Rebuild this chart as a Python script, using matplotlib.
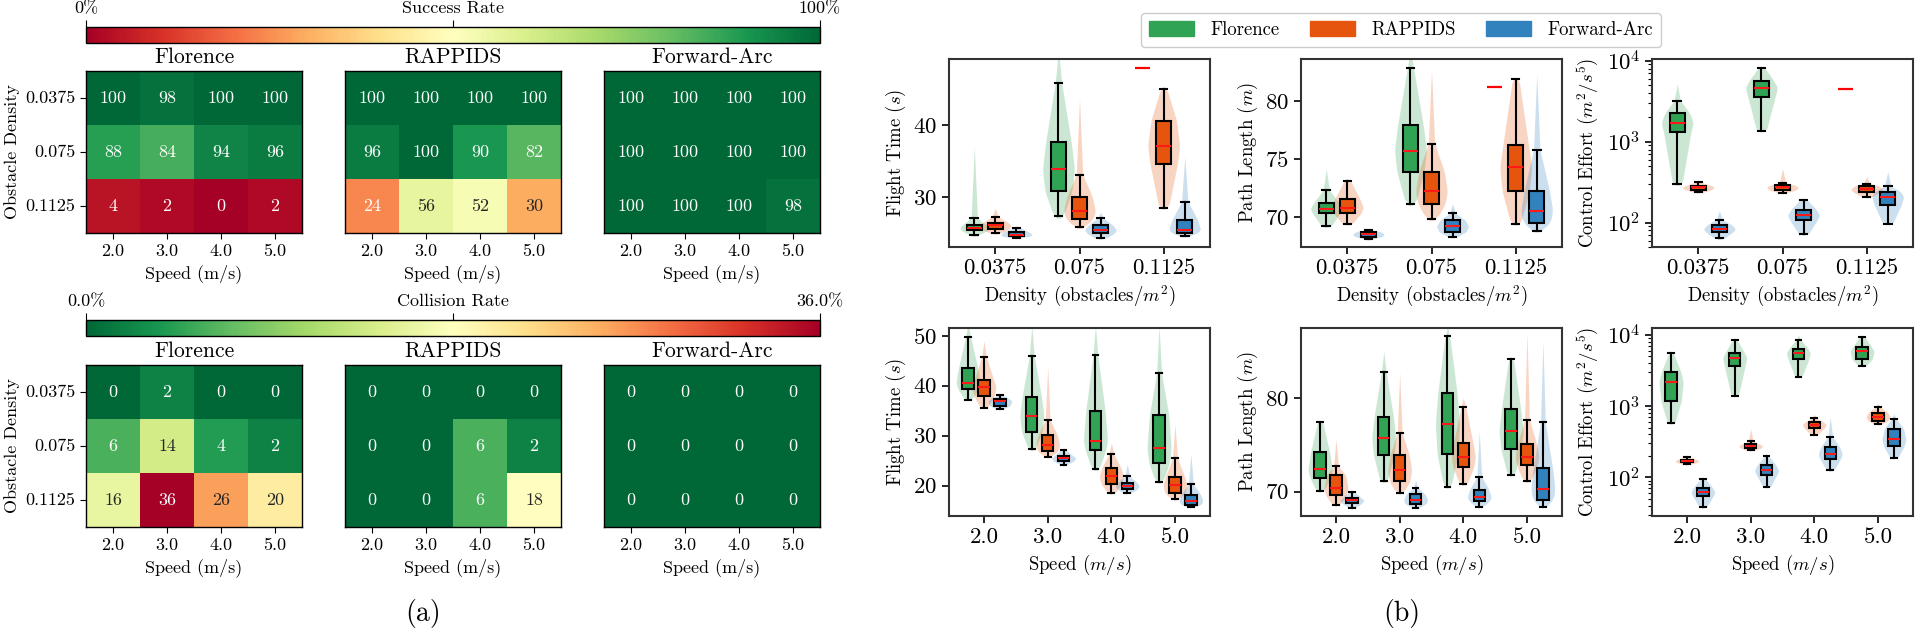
import numpy as np
import matplotlib
matplotlib.use('Agg')
import matplotlib.pyplot as plt
import seaborn as sns
from matplotlib.patches import Patch
from matplotlib.ticker import MultipleLocator

plt.rcParams['font.family'] = 'serif'
plt.rcParams['font.serif'] = ['cmr10', 'DejaVu Serif']
plt.rcParams['mathtext.fontset'] = 'cm'
plt.rcParams['axes.unicode_minus'] = False
plt.rcParams['axes.formatter.use_mathtext'] = True

# ---------------- data ----------------
methods = ['Florence', 'RAPPIDS', 'Forward-Arc']
speeds = ['2.0', '3.0', '4.0', '5.0']
densities = ['0.0375', '0.075', '0.1125']

success_florence = [[100, 98, 100, 100], [88, 84, 94, 96], [4, 2, 0, 2]]
success_rappids = [[100, 100, 100, 100], [96, 100, 90, 82], [24, 56, 52, 30]]
success_farc = [[100, 100, 100, 100], [100, 100, 100, 100], [100, 100, 100, 98]]
collision_florence = [[0, 2, 0, 0], [6, 14, 4, 2], [16, 36, 26, 20]]
collision_rappids = [[0, 0, 0, 0], [0, 0, 6, 2], [0, 0, 6, 18]]
collision_farc = [[0, 0, 0, 0], [0, 0, 0, 0], [0, 0, 0, 0]]

# box stats per group: [whislo, q1, med, q3, whishi, violin_lo, violin_hi]
ft_density_florence = [[24.7, 25.3, 25.6, 26.0, 27.0, 24.5, 37.0], [27.3, 30.8, 33.9, 37.6, 45.9, 27.0, 50.5], [48.0, 48.0, 48.0, 48.0, 48.0, 48.0, 48.0]]
ft_density_rappids = [[24.9, 25.5, 26.0, 26.4, 27.2, 24.8, 28.4], [25.8, 26.9, 28.0, 30.0, 33.1, 25.6, 43.7], [28.5, 34.5, 37.1, 40.6, 45.0, 28.3, 45.3]]
ft_density_farc = [[24.3, 24.5, 24.7, 25.1, 25.7, 24.2, 25.9], [24.2, 24.9, 25.4, 26.0, 27.0, 24.1, 27.8], [24.5, 25.0, 25.4, 26.8, 29.3, 24.4, 35.6]]

pl_density_florence = [[69.2, 70.3, 70.7, 71.2, 72.3, 69.1, 74.1], [71.1, 73.9, 75.7, 77.9, 82.8, 71.0, 84.5], [81.2, 81.2, 81.2, 81.2, 81.2, 81.2, 81.2]]
pl_density_rappids = [[69.4, 70.3, 70.8, 71.5, 73.1, 69.3, 73.3], [69.8, 71.1, 72.2, 73.9, 76.3, 69.7, 82.7], [69.4, 72.2, 74.3, 76.2, 81.9, 69.3, 82.0]]
pl_density_farc = [[68.1, 68.3, 68.5, 68.7, 68.9, 68.0, 69.0], [68.3, 68.7, 69.2, 69.7, 70.3, 68.2, 71.1], [68.8, 69.5, 70.5, 72.2, 75.8, 68.7, 82.3]]

ce_density_florence = [[298, 1300, 1680, 2230, 3200, 290, 5140], [1360, 3550, 4630, 5540, 8190, 1350, 8300], [4510, 4510, 4510, 4510, 4510, 4510, 4510]]
ce_density_rappids = [[237, 256, 274, 287, 315, 232, 330], [235, 253, 274, 290, 310, 230, 466], [208, 239, 258, 282, 304, 205, 367]]
ce_density_farc = [[64, 76.7, 83.5, 92.7, 109, 62, 139], [72.4, 107, 123, 145, 193, 70, 200], [96.4, 167, 208, 242, 282, 95, 424]]

ft_speed_florence = [[37.2, 39.3, 40.6, 43.5, 49.8, 37.0, 52.5], [27.3, 30.8, 34.0, 37.7, 46.0, 27.0, 52.0], [23.3, 27.1, 28.9, 34.9, 46.1, 23.0, 52.0], [20.7, 24.5, 27.5, 34.1, 42.5, 20.5, 52.0]]
ft_speed_rappids = [[35.6, 37.9, 39.7, 41.1, 45.7, 35.4, 48.9], [25.8, 26.9, 28.1, 30.1, 33.1, 25.6, 43.7], [18.5, 20.3, 21.9, 23.5, 26.3, 18.3, 28.5], [17.3, 18.5, 20.1, 21.7, 25.6, 17.1, 32.2]]
ft_speed_farc = [[35.3, 36.0, 36.9, 37.3, 38.1, 35.2, 38.3], [24.2, 24.9, 25.5, 25.9, 27.1, 24.1, 27.3], [18.5, 19.3, 19.9, 20.6, 21.9, 18.4, 24.3], [15.7, 16.2, 16.9, 18.2, 20.3, 15.6, 26.3]]

pl_speed_florence = [[70.1, 71.5, 72.4, 74.2, 77.5, 70.0, 77.6], [71.1, 73.9, 75.7, 78.0, 82.8, 71.0, 85.0], [70.5, 74.0, 77.2, 80.5, 86.6, 70.4, 87.5], [71.8, 74.6, 76.5, 78.8, 84.2, 71.7, 84.4]]
pl_speed_rappids = [[68.6, 69.6, 70.4, 71.8, 72.7, 68.5, 75.6], [69.9, 71.1, 72.3, 73.9, 76.3, 69.8, 82.7], [70.8, 72.6, 73.7, 75.2, 79.1, 70.7, 80.0], [71.1, 72.8, 73.7, 75.1, 77.7, 71.0, 87.0]]
pl_speed_farc = [[68.3, 68.8, 69.1, 69.3, 70.0, 68.2, 70.1], [68.3, 68.7, 69.1, 69.7, 70.4, 68.2, 71.2], [68.4, 69.0, 69.4, 70.2, 71.6, 68.3, 76.5], [68.4, 69.1, 70.3, 72.5, 77.4, 68.3, 86.1]]

ce_speed_florence = [[575, 1190, 2200, 3040, 5480, 560, 5600], [1390, 3600, 4770, 5590, 8420, 1380, 8600], [2590, 4520, 5480, 6370, 8420, 2580, 9800], [3610, 4570, 5850, 6660, 9380, 3600, 9500]]
ce_speed_rappids = [[152, 162, 171, 178, 192, 150, 200], [239, 257, 274, 292, 319, 236, 479], [399, 496, 546, 594, 676, 395, 760], [557, 627, 705, 811, 973, 550, 1080]]
ce_speed_farc = [[38.5, 54.8, 61.6, 71.6, 95.7, 37, 98], [73.3, 109, 125, 147, 197, 72, 200], [125, 182, 210, 263, 374, 123, 698], [186, 274, 340, 480, 662, 184, 776]]

colors = ['#31a354', '#e6550d', '#3182bd']

# ---------------- figure ----------------
W, H = 1920, 635
fig = plt.figure(figsize=(W / 100, H / 100), dpi=100)


def px_axes(x0, y0, x1, y1):
    return fig.add_axes([x0 / W, 1 - y1 / H, (x1 - x0) / W, (y1 - y0) / H])


# ---------- (a) heatmaps ----------
hm_cols = [86, 345, 604]
hm_w = 216


def heat_block(datasets, y0, y1, cb_y0, cb_y1, cmap, vmax, ticklabels):
    for i, (name, d) in enumerate(zip(methods, datasets)):
        ax = px_axes(hm_cols[i], y0, hm_cols[i] + hm_w, y1)
        sns.heatmap(np.array(d), ax=ax, cmap=cmap, vmin=0, vmax=vmax, annot=True, fmt='d',
                    cbar=False, annot_kws={'fontsize': 13})
        ax.set_title(name, fontsize=15.5, pad=6)
        ax.set_xticklabels(speeds, fontsize=13, rotation=0)
        ax.set_xlabel('Speed (m/s)', fontsize=13)
        if i == 0:
            ax.set_yticklabels(densities, fontsize=13, rotation=0)
            ax.set_ylabel('Obstacle Density', fontsize=13)
        else:
            ax.set_yticks([])
        ax.tick_params(length=4)
        for s in ax.spines.values():
            s.set_visible(True)
            s.set_color('black')
            s.set_linewidth(1.0)
        mappable = ax.collections[0]
    cax = px_axes(hm_cols[0], cb_y0, hm_cols[2] + hm_w, cb_y1)
    cb = fig.colorbar(mappable, cax=cax, orientation='horizontal')
    cax.xaxis.set_ticks_position('top')
    cb.set_ticks([0, vmax / 2, vmax])
    cb.set_ticklabels(ticklabels)
    cax.tick_params(labelsize=13, length=5, pad=3)
    cb.outline.set_linewidth(1.0)


heat_block([success_florence, success_rappids, success_farc], 71, 233, 27, 43,
           'RdYlGn', 100, ['0%', 'Success Rate', '100%'])
heat_block([collision_florence, collision_rappids, collision_farc], 365, 527, 320, 336,
           'RdYlGn_r', 36, ['0.0%', 'Collision Rate', '36.0%'])

fig.text(423 / W, 1 - 613 / H, '(a)', fontsize=20, ha='center', va='center')
fig.text(1402 / W, 1 - 613 / H, '(b)', fontsize=20, ha='center', va='center')

# ---------- (b) box + violin plots ----------
bx_cols = [949, 1301, 1652]
bx_w = 261
offsets = [-0.25, 0.0, 0.25]
box_w = 0.18


def violin(ax, pos, st, color, log):
    lo, q1, med, q3, hi, vlo, vhi = st
    f = np.log10 if log else (lambda v: np.asarray(v, float))
    knots = f(np.array([vlo, lo, q1, med, q3, hi, vhi], float))
    knots = np.maximum.accumulate(knots + np.arange(7) * 1e-6)
    vals = [0.0, 0.3, 0.85, 1.0, 0.8, 0.2, 0.0]
    ys = np.linspace(knots[0], knots[-1], 300)
    hw = np.interp(ys, knots, vals)
    k = np.ones(21) / 21
    hw = np.convolve(np.pad(hw, 10, mode='edge'), k, mode='valid')
    yy = 10 ** ys if log else ys
    ax.fill_betweenx(yy, pos - hw * 0.19, pos + hw * 0.19, color=color, alpha=0.25, lw=0)


def box_panel(ax, series, cats, log, ylim, major, ylabel, xlabel):
    for m, data in enumerate(series):
        for g, st in enumerate(data):
            pos = g + offsets[m]
            lo, q1, med, q3, hi = st[:5]
            if lo == hi:
                ax.hlines(med, pos - box_w / 2, pos + box_w / 2, color='red', lw=1.6, zorder=4)
                continue
            violin(ax, pos, st, colors[m], log)
            ax.bxp([dict(whislo=lo, q1=q1, med=med, q3=q3, whishi=hi, fliers=[])],
                   positions=[pos], widths=box_w, capwidths=box_w * 0.5, patch_artist=True,
                   showfliers=False, manage_ticks=False,
                   boxprops=dict(facecolor=colors[m], edgecolor='black', linewidth=1.5),
                   medianprops=dict(color='#ff1a1a', linewidth=1.5),
                   whiskerprops=dict(color='black', linewidth=1.5),
                   capprops=dict(color='black', linewidth=1.5))
    ax.set_xticks(range(len(cats)))
    ax.set_xticklabels(cats)
    ax.set_xlim(-0.55, len(cats) - 0.45)
    if log:
        ax.set_yscale('log')
    else:
        ax.yaxis.set_major_locator(MultipleLocator(major))
    ax.set_ylim(*ylim)
    ax.set_ylabel(ylabel, fontsize=13.5)
    ax.set_xlabel(xlabel, fontsize=13.5)
    ax.tick_params(axis='both', which='major', labelsize=16.5, length=5, width=1.2)
    ax.tick_params(axis='y', which='minor', length=3, width=0.8)
    for s in ax.spines.values():
        s.set_linewidth(1.5)
        s.set_color('#333333')


dens_label = r'Density (obstacles/$m^2$)'
speed_label = r'Speed $(m/s)$'

row1 = (59, 247)
row2 = (328, 516)
panels = [
    (row1, 0, [ft_density_florence, ft_density_rappids, ft_density_farc], densities, False, (23.0, 49.2), 10, r'Flight Time $(s)$', dens_label),
    (row1, 1, [pl_density_florence, pl_density_rappids, pl_density_farc], densities, False, (67.4, 83.6), 5, r'Path Length $(m)$', dens_label),
    (row1, 2, [ce_density_florence, ce_density_rappids, ce_density_farc], densities, True, (50, 1.05e4), None, r'Control Effort $(m^2/s^5)$', dens_label),
    (row2, 0, [ft_speed_florence, ft_speed_rappids, ft_speed_farc], speeds, False, (13.9, 51.5), 10, r'Flight Time $(s)$', speed_label),
    (row2, 1, [pl_speed_florence, pl_speed_rappids, pl_speed_farc], speeds, False, (67.4, 87.5), 10, r'Path Length $(m)$', speed_label),
    (row2, 2, [ce_speed_florence, ce_speed_rappids, ce_speed_farc], speeds, True, (28.8, 1.24e4), None, r'Control Effort $(m^2/s^5)$', speed_label),
]
for (y0, y1), c, series, cats, log, ylim, major, ylabel, xlabel in panels:
    ax = px_axes(bx_cols[c], y0, bx_cols[c] + bx_w, y1)
    box_panel(ax, series, cats, log, ylim, major, ylabel, xlabel)

handles = [Patch(facecolor=col, edgecolor=col) for col in colors]
fig.legend(handles, methods, loc='center', bbox_to_anchor=(1401 / W, 1 - 30 / H), ncol=3,
           fontsize=13.5, frameon=True, handlelength=2.4, handleheight=0.9, columnspacing=1.6,
           handletextpad=0.9, fancybox=True, edgecolor='#cccccc', framealpha=1.0)

fig.savefig('out.png', dpi=100)
